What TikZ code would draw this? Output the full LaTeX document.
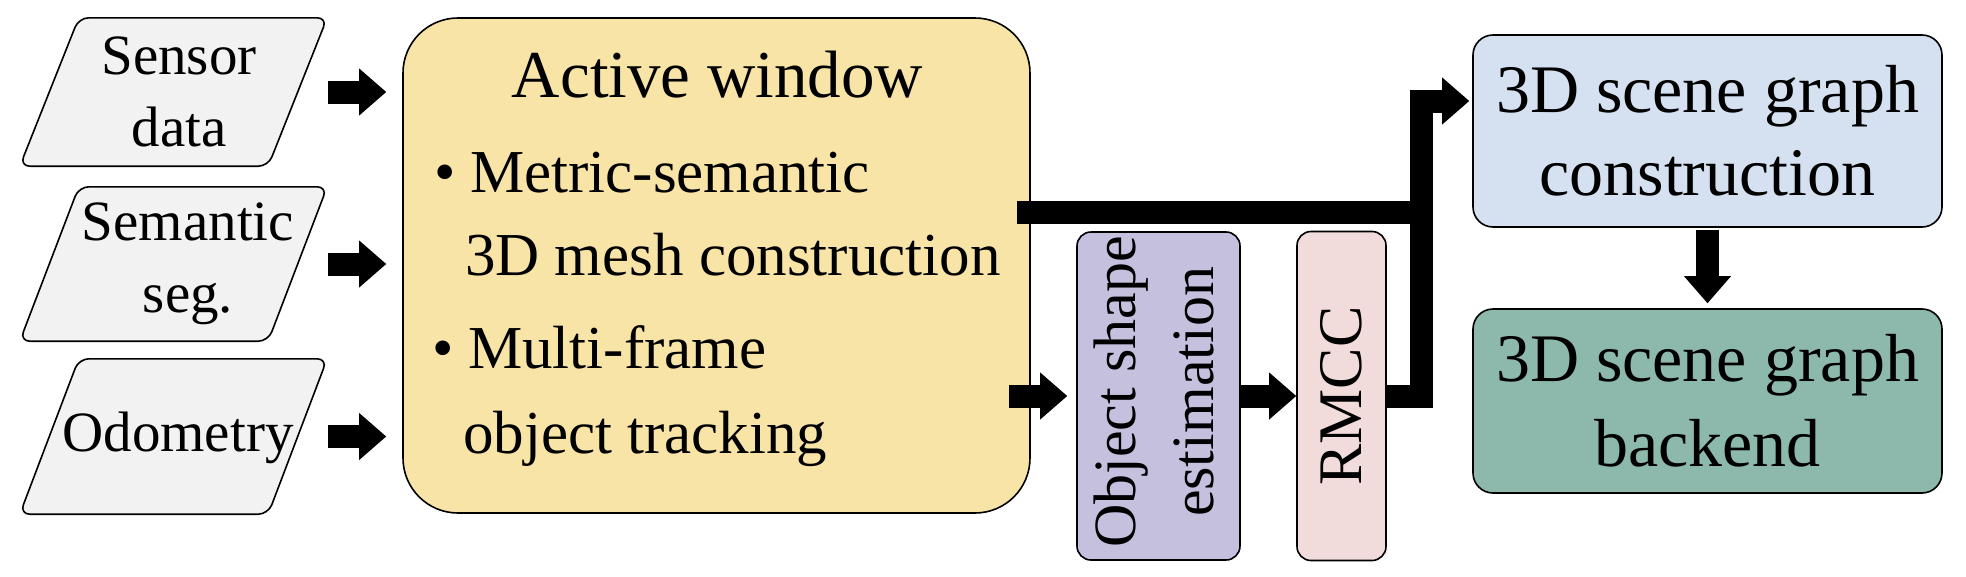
\documentclass[tikz,border=0pt]{standalone}
\usepackage{fontspec}
\setmainfont{Liberation Serif}
\usetikzlibrary{arrows.meta,calc}
\definecolor{pgray}{HTML}{F2F2F2}
\definecolor{awyellow}{HTML}{F8E4A6}
\definecolor{objpurple}{HTML}{C6C0DF}
\definecolor{rmccpink}{HTML}{F2DCDB}
\definecolor{sgblue}{HTML}{D5E1F0}
\definecolor{begreen}{HTML}{8DB9AC}
\newcommand\fsz[2]{\fontsize{#1pt}{#2pt}\selectfont}
\newcommand\pgram[1]{%
  \draw[pshape] ([xshift=-29.5pt]#1.south west) -- ([xshift=-29.5pt]#1.south east)
    -- ([xshift=29.5pt]#1.north east) -- ([xshift=29.5pt]#1.north west) -- cycle;}
\begin{document}
\begin{tikzpicture}[x=1pt,y=-1pt,
  outl/.style={draw=black, line width=1.6pt},
  pframe/.style={rectangle, inner sep=0pt, minimum width=248pt},
  pshape/.style={outl, fill=pgray, rounded corners=10pt},
  intext/.style={align=center, inner sep=0pt, font=\fsz{57}{72}},
  boxr/.style={outl, rectangle, inner sep=0pt},
  awline/.style={anchor=base west, inner sep=0pt, font=\fsz{61}{61}},
  vtext/.style={rotate=90, align=center, inner sep=0pt},
  fat/.style={line width=23pt, -{Triangle[length=27pt,width=47pt,line width=0pt]}},
  bar/.style={line width=23pt},
]
\path[use as bounding box] (0,0) rectangle (1966,576);

% input parallelograms
\node[pframe, minimum height=148pt] (p1) at (173.5,92) {};
\node[pframe, minimum height=154pt] (p2) at (173.5,264) {};
\node[pframe, minimum height=155pt] (p3) at (173.5,436.5) {};
\pgram{p1}
\pgram{p2}
\pgram{p3}
\node[intext] (p1t) at (179,91.5) {Sensor\\data};
\node[intext] (p2t) at (188,264) {Semantic\\seg.};
\node[intext] (p3t) at (178,437.5) {Odometry};

% active window
\node[boxr, fill=awyellow, minimum width=627pt, minimum height=495pt, rounded corners=55pt] (aw) at (716.5,265.5) {};
\node[anchor=base, inner sep=0pt, font=\fsz{67}{67}] (awt) at (717.5,97) {Active window};
\node[awline] (aw1) at (470,192) {\llap{\textbullet\hspace{14pt}}Metric-semantic};
\node[awline] (aw2) at (465,275) {3D mesh construction};
\node[awline] (aw3) at (468,368) {\llap{\textbullet\hspace{14pt}}Multi-frame};
\node[awline] (aw4) at (463,453) {object tracking};

% object shape estimation and RMCC
\node[boxr, fill=objpurple, minimum width=163pt, minimum height=328pt, rounded corners=14pt] (obj) at (1158.5,396) {};
\node[vtext, font=\fsz{60}{78}] (objt) at (1153.5,392) {Object shape\\estimation};
\node[boxr, fill=rmccpink, minimum width=89pt, minimum height=329pt, rounded corners=14pt] (rmcc) at (1341.5,396) {};
\node[vtext, font=\fsz{62}{62}] (rmcct) at (1341.5,396) {RMCC};

% scene graph boxes
\node[boxr, fill=sgblue, minimum width=469pt, minimum height=192pt, rounded corners=20pt,
  align=center, font=\fsz{68}{83}] (sg) at (1707.5,131) {3D scene graph\\construction};
\node[boxr, fill=begreen, minimum width=469pt, minimum height=184pt, rounded corners=20pt,
  align=center, font=\fsz{68}{85}] (be) at (1707.5,401) {3D scene graph\\backend};

% junction coordinates
\coordinate (jt) at (1421.5,212);
\coordinate (jb) at (1421.5,396);
\coordinate (jtop) at (1421.5,101);

% input arrows
\draw[fat] ($(p1.east)+(30.5,0)$) -- ($(aw.west|-p1.east)+(-16,0)$);
\draw[fat] ($(p2.east)+(30.5,0)$) -- ($(aw.west|-p2.east)+(-16,0)$);
\draw[fat] ($(p3.east)+(30.5,0)$) -- ($(aw.west|-p3.east)+(-16,0)$);

% active window to object shape
\draw[fat] ($(aw.east|-obj.west)+(-22,0)$) -- ($(obj.west)+(-9,0)$);
% object shape to RMCC
\draw[fat] (obj.east) -- (rmcc.west);
% active window mesh output bar
\draw[bar] ($(aw.east|-jt)+(-14,0)$) -- ($(jt)+(11.5,0)$);
% RMCC to scene graph construction
\draw[fat] (rmcc.east) -- (jb) -- (jtop) -- ($(sg.west|-jtop)+(-3,0)$);
% construction to backend
\draw[fat] ($(sg.south)+(0,2)$) -- ($(be.north)+(0,-5)$);
\end{tikzpicture}
\end{document}
